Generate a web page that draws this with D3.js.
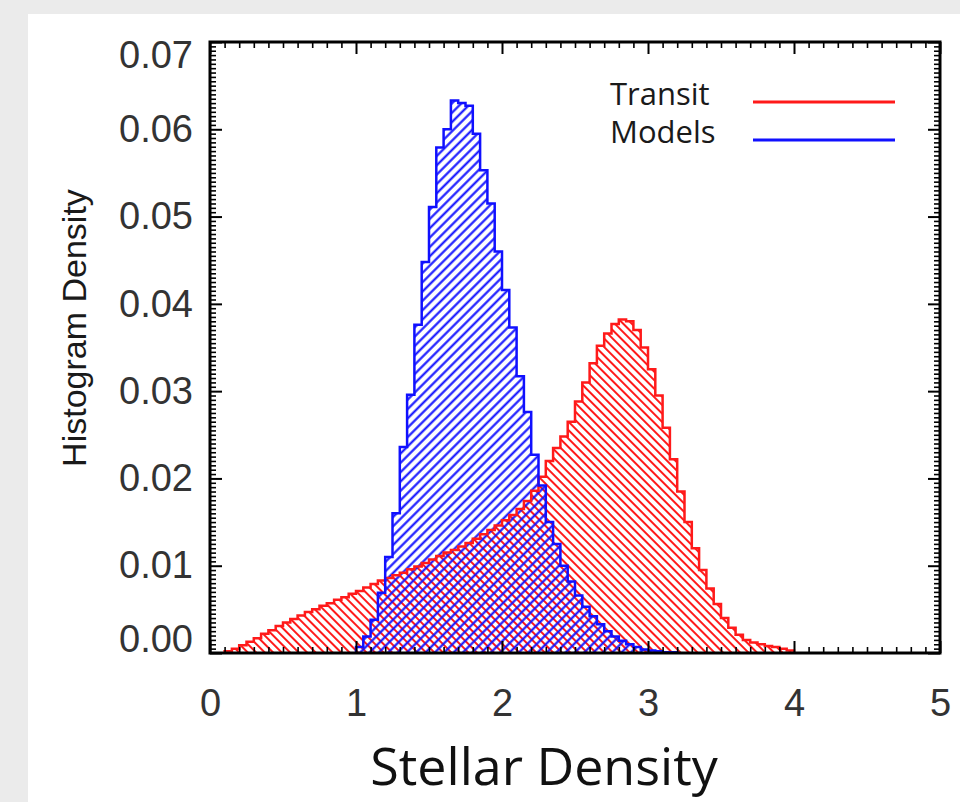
<!DOCTYPE html>
<html>
<head>
<meta charset="utf-8">
<script src="https://cdn.jsdelivr.net/npm/d3@7"></script>
<style>
  body { margin: 0; background: #ebebeb; }
  svg { display: block; }
</style>
</head>
<body>
<script>
// histogram bins, width 0.05 in stellar density
var binWidth = 0.05;
var transitStart = 0.10;
var modelsStart = 1.00;

// Transit (red) histogram density, bins from 0.10 to 4.00
var transit = [
  0.0002, 0.0005, 0.0009, 0.0013, 0.0017, 0.0022, 0.0026, 0.0031, 0.0035, 0.0039,
  0.0043, 0.0047, 0.0050, 0.0054, 0.0057, 0.0061, 0.0064, 0.0068, 0.0071, 0.0075,
  0.0079, 0.0083, 0.0086, 0.0089, 0.0092, 0.0096, 0.0099, 0.0103, 0.0107, 0.0111,
  0.0115, 0.0118, 0.0122, 0.0126, 0.0131, 0.0136, 0.0141, 0.0146, 0.0152, 0.0158,
  0.0165, 0.0174, 0.0186, 0.0202, 0.0220, 0.0235, 0.0248, 0.0265, 0.0288, 0.0310,
  0.0332, 0.0352, 0.0366, 0.0377, 0.0382, 0.0380, 0.0370, 0.0350, 0.0325, 0.0295,
  0.0258, 0.0222, 0.0185, 0.0150, 0.0120, 0.0095, 0.0074, 0.0056, 0.0040, 0.0029,
  0.0021, 0.0015, 0.0012, 0.0010, 0.0008, 0.0007, 0.0005, 0.0003
];

// Models (blue) histogram density, bins from 1.00 to 3.20
var models = [
  0.0007, 0.0019, 0.0038, 0.0069, 0.0110, 0.0160, 0.0236, 0.0296, 0.0376, 0.0448,
  0.0511, 0.0579, 0.0600, 0.0633, 0.0630, 0.0627, 0.0595, 0.0553, 0.0515, 0.0460,
  0.0416, 0.0373, 0.0317, 0.0276, 0.0227, 0.0192, 0.0150, 0.0125, 0.0100, 0.0082,
  0.0066, 0.0053, 0.0042, 0.0033, 0.0025, 0.0019, 0.0014, 0.0010, 0.0007, 0.0004,
  0.0003, 0.0002, 0.0001, 0.0001
];

var xTicks = [0, 1, 2, 3, 4, 5];
var yTicks = [0, 0.01, 0.02, 0.03, 0.04, 0.05, 0.06, 0.07];
var legendNames = ["Transit", "Models"];
var colors = ["#ff1a1a", "#1010ff"];

var W = 960, H = 802;
var svg = d3.select("body").append("svg").attr("width", W).attr("height", H);

svg.append("rect").attr("width", W).attr("height", H).attr("fill", "#ebebeb");
svg.append("rect").attr("x", 28).attr("y", 14).attr("width", W - 28).attr("height", H - 14).attr("fill", "#fff");

var margin = {left: 210, right: 20, top: 42, bottom: 149};
var pw = W - margin.left - margin.right;
var ph = H - margin.top - margin.bottom;

var x = d3.scaleLinear().domain([0, 5]).range([0, pw]);
var y = d3.scaleLinear().domain([0, 0.07]).range([ph, 0]);

var g = svg.append("g").attr("transform", "translate(" + margin.left + "," + margin.top + ")");

// hatch patterns
var defs = svg.append("defs");
function hatch(id, color, angle, gap, w) {
  var p = defs.append("pattern").attr("id", id)
    .attr("patternUnits", "userSpaceOnUse")
    .attr("width", gap).attr("height", gap)
    .attr("patternTransform", "rotate(" + angle + ")");
  p.append("line").attr("x1", gap / 2).attr("y1", -1).attr("x2", gap / 2).attr("y2", gap + 1)
    .attr("stroke", color).attr("stroke-width", w);
}
hatch("hatchRed", colors[0], -45, 6.0, 2.0);
hatch("hatchBlue", colors[1], 45, 6.6, 2.1);

function steps(start, vals) {
  var pts = [{x: start, v: 0}];
  vals.forEach(function(v, i) {
    pts.push({x: start + i * binWidth, v: v});
    pts.push({x: start + (i + 1) * binWidth, v: v});
  });
  pts.push({x: start + vals.length * binWidth, v: 0});
  return pts;
}

var area = d3.area().x(function(d) { return x(d.x); }).y0(y(0)).y1(function(d) { return y(d.v); });
var line = d3.line().x(function(d) { return x(d.x); }).y(function(d) { return y(d.v); });

var redPts = steps(transitStart, transit);
var bluePts = steps(modelsStart, models);

g.append("path").attr("d", area(redPts)).attr("fill", "url(#hatchRed)");
g.append("path").attr("d", area(bluePts)).attr("fill", "url(#hatchBlue)");
g.append("path").attr("d", line(redPts)).attr("fill", "none").attr("stroke", colors[0]).attr("stroke-width", 2.5);
g.append("path").attr("d", line(bluePts)).attr("fill", "none").attr("stroke", colors[1]).attr("stroke-width", 2.5);

// minor ticks
var xMinor = d3.range(0, 50).map(function(i) { return i / 10; }).filter(function(d) { return xTicks.indexOf(d) < 0; });
var yMinor = d3.range(0, 140).map(function(i) { return i * 0.0005; }).filter(function(d, i) { return i % 20 !== 0; });

function drawAxis(axis, transform, labels) {
  var a = g.append("g").attr("transform", transform).call(axis);
  a.select(".domain").remove();
  a.selectAll(".tick line").attr("stroke", "#000");
  if (!labels) a.selectAll("text").remove();
  return a;
}

var major = 12, minor = 6;

var bx = drawAxis(d3.axisBottom(x).tickValues(xTicks).tickSize(-major).tickPadding(36).tickFormat(d3.format("d")),
  "translate(0," + ph + ")", true);
bx.selectAll(".tick line").attr("stroke-width", 2);
bx.selectAll("text").attr("font-family", "Liberation Sans, Arial, sans-serif").attr("font-size", 38).attr("fill", "#333");
drawAxis(d3.axisBottom(x).tickValues(xMinor).tickSize(-minor).tickFormat(""), "translate(0," + ph + ")", false)
  .selectAll(".tick line").attr("stroke-width", 1.6);

drawAxis(d3.axisTop(x).tickValues(xTicks).tickSize(-major), "translate(0,0)", false)
  .selectAll(".tick line").attr("stroke-width", 2);
drawAxis(d3.axisTop(x).tickValues(xMinor).tickSize(-minor), "translate(0,0)", false)
  .selectAll(".tick line").attr("stroke-width", 1.6);

var ly = drawAxis(d3.axisLeft(y).tickValues(yTicks).tickSize(-major).tickPadding(17).tickFormat(d3.format(".2f")),
  "translate(0,0)", true);
ly.selectAll(".tick line").attr("stroke-width", 2);
ly.selectAll("text").attr("font-family", "Liberation Sans, Arial, sans-serif").attr("font-size", 38).attr("fill", "#333")
  .attr("dy", function(d) { return d === 0 ? "-0.05em" : (d === 0.07 ? "0.68em" : "0.32em"); });
drawAxis(d3.axisLeft(y).tickValues(yMinor).tickSize(-minor).tickFormat(""), "translate(0,0)", false)
  .selectAll(".tick line").attr("stroke-width", 1.6);

drawAxis(d3.axisRight(y).tickValues(yTicks).tickSize(-major), "translate(" + pw + ",0)", false)
  .selectAll(".tick line").attr("stroke-width", 2);
drawAxis(d3.axisRight(y).tickValues(yMinor).tickSize(-minor), "translate(" + pw + ",0)", false)
  .selectAll(".tick line").attr("stroke-width", 1.6);

// frame
g.append("rect").attr("width", pw).attr("height", ph).attr("fill", "none").attr("stroke", "#000").attr("stroke-width", 3);

// legend
var legend = g.selectAll(".legend").data(legendNames).enter().append("g").attr("class", "legend")
  .attr("transform", function(d, i) { return "translate(400," + (63 + i * 38) + ")"; });
legend.append("text").text(function(d) { return d; })
  .attr("font-family", "Open Sans, sans-serif").attr("font-size", 31).attr("fill", "#1a1a1a");
legend.append("line").attr("x1", 143).attr("x2", 285).attr("y1", -3).attr("y2", -3)
  .attr("stroke", function(d, i) { return colors[i]; }).attr("stroke-width", 3);

// axis titles
svg.append("text").attr("transform", "translate(86,328) rotate(-90)")
  .attr("text-anchor", "middle").attr("font-family", "Liberation Sans, Arial, sans-serif")
  .attr("font-size", 34).attr("fill", "#1a1a1a").text("Histogram Density");

svg.append("text").attr("x", 544).attr("y", 785).attr("text-anchor", "middle")
  .attr("font-family", "Open Sans, sans-serif").attr("font-size", 52).attr("fill", "#111")
  .text("Stellar Density");
</script>
</body>
</html>
